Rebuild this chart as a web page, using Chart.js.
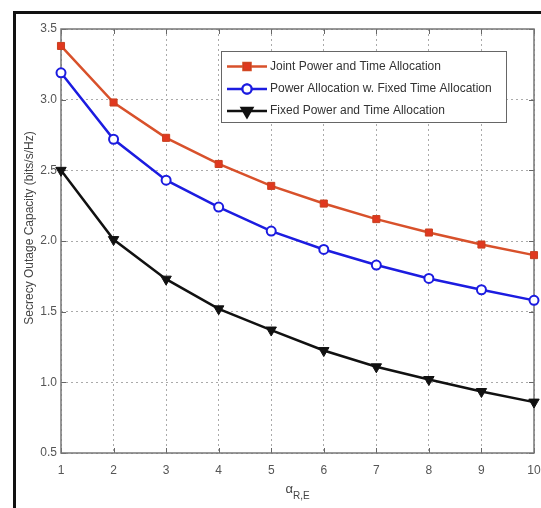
<!DOCTYPE html>
<html>
<head>
<meta charset="utf-8">
<script src="https://cdn.jsdelivr.net/npm/chart.js@4/dist/chart.umd.min.js"></script>
<style>
  html, body { margin: 0; padding: 0; background: #fff; }
  #wrap { position: relative; width: 541px; height: 508px; }
  #frame { position: absolute; left: 13px; top: 11px; right: 0; bottom: 0;
           border-left: 3px solid #111; border-top: 3px solid #111; pointer-events: none; }
  canvas { position: absolute; left: 0; top: 0; }
</style>
</head>
<body>
<div id="wrap">
  <canvas id="c" width="541" height="508"></canvas>
  <div id="frame"></div>
</div>
<script>
// ---- data ----
const alpha = [1, 2, 3, 4, 5, 6, 7, 8, 9, 10];
const seriesNames = [
  'Joint Power and Time Allocation',
  'Power Allocation w. Fixed Time Allocation',
  'Fixed Power and Time Allocation'
];
const jointPT = [3.38, 2.98, 2.73, 2.545, 2.39, 2.265, 2.155, 2.06, 1.975, 1.90];
const powerFixedT = [3.19, 2.72, 2.43, 2.24, 2.07, 1.94, 1.83, 1.735, 1.655, 1.58];
const fixedPT = [2.50, 2.01, 1.73, 1.52, 1.37, 1.225, 1.11, 1.02, 0.935, 0.86];
const yTicks = [0.5, 1.0, 1.5, 2.0, 2.5, 3.0, 3.5];
const yTitle = 'Secrecy Outage Capacity (bits/s/Hz)';
const xTitleMain = 'α';
const xTitleSub = 'R,E';

const FONT = '"Liberation Sans", Arial, sans-serif';

const decor = {
  id: 'decor',
  beforeDatasetsDraw(chart) {
    const { ctx, chartArea: a, scales } = chart;
    ctx.save();
    // inward ticks
    ctx.strokeStyle = '#666';
    ctx.lineWidth = 1;
    ctx.beginPath();
    scales.x.ticks.forEach((t, i) => {
      const px = Math.round(scales.x.getPixelForTick(i)) + 0.5;
      ctx.moveTo(px, a.bottom); ctx.lineTo(px, a.bottom - 5);
      ctx.moveTo(px, a.top); ctx.lineTo(px, a.top + 5);
    });
    scales.y.ticks.forEach((t) => {
      const py = Math.round(scales.y.getPixelForValue(t.value)) + 0.5;
      ctx.moveTo(a.left, py); ctx.lineTo(a.left + 5, py);
      ctx.moveTo(a.right, py); ctx.lineTo(a.right - 5, py);
    });
    ctx.stroke();
    // plot box
    ctx.strokeStyle = '#777';
    ctx.lineWidth = 1.5;
    ctx.strokeRect(a.left, a.top, a.right - a.left, a.bottom - a.top);
    ctx.restore();
  },
  afterDraw(chart) {
    const { ctx, chartArea: a } = chart;
    ctx.save();
    // y title
    ctx.fillStyle = '#444';
    ctx.font = '12px ' + FONT;
    ctx.textAlign = 'center';
    ctx.textBaseline = 'middle';
    ctx.translate(30, 228);
    ctx.rotate(-Math.PI / 2);
    ctx.fillText(yTitle, 0, 0);
    ctx.restore();

    ctx.save();
    // x title alpha_{R,E}
    ctx.fillStyle = '#444';
    ctx.textBaseline = 'alphabetic';
    ctx.textAlign = 'left';
    ctx.font = '13px ' + FONT;
    const cx = (a.left + a.right) / 2;
    const wMain = ctx.measureText(xTitleMain).width;
    ctx.font = '10px ' + FONT;
    const wSub = ctx.measureText(xTitleSub).width;
    const x0 = cx - (wMain + wSub) / 2;
    ctx.font = '13px ' + FONT;
    ctx.fillText(xTitleMain, x0, 493);
    ctx.font = '10px ' + FONT;
    ctx.fillText(xTitleSub, x0 + wMain, 499);
    ctx.restore();

    // legend
    ctx.save();
    const lx = 221, ly = 51, lw = 285, lh = 71;
    ctx.fillStyle = '#fff';
    ctx.fillRect(lx, ly, lw, lh);
    ctx.strokeStyle = '#666';
    ctx.lineWidth = 1;
    ctx.strokeRect(lx + 0.5, ly + 0.5, lw, lh);
    const rows = [66.5, 89, 111];
    chart.data.datasets.forEach((ds, i) => {
      const y = rows[i];
      ctx.strokeStyle = ds.borderColor;
      ctx.lineWidth = 2.5;
      ctx.beginPath();
      ctx.moveTo(227, y); ctx.lineTo(267, y);
      ctx.stroke();
      Chart.helpers.drawPoint(ctx, {
        pointStyle: ds.pointStyle,
        rotation: ds.pointRotation || 0,
        radius: ds.pointRadius,
        borderWidth: ds.pointBorderWidth
      }, 247, y);
      ctx.fillStyle = ds.pointBackgroundColor;
      ctx.strokeStyle = ds.pointBorderColor;
      ctx.lineWidth = ds.pointBorderWidth;
      ctx.fill();
      ctx.stroke();
      ctx.fillStyle = '#333';
      ctx.font = '12px ' + FONT;
      ctx.textAlign = 'left';
      ctx.textBaseline = 'middle';
      ctx.fillText(ds.label, 270, y);
    });
    ctx.restore();
  }
};

new Chart(document.getElementById('c'), {
  type: 'line',
  data: {
    labels: alpha,
    datasets: [
      {
        label: seriesNames[0], data: jointPT,
        borderColor: '#d8512b', borderWidth: 2.5,
        pointStyle: 'rect', pointRadius: 5,
        pointBackgroundColor: '#e0381f', pointBorderColor: '#c8401f', pointBorderWidth: 1
      },
      {
        label: seriesNames[1], data: powerFixedT,
        borderColor: '#1c1ce0', borderWidth: 2.5,
        pointStyle: 'circle', pointRadius: 4.5,
        pointBackgroundColor: '#ffffff', pointBorderColor: '#1c1ce0', pointBorderWidth: 2
      },
      {
        label: seriesNames[2], data: fixedPT,
        borderColor: '#111111', borderWidth: 2.5,
        pointStyle: 'triangle', pointRotation: 180, pointRadius: 6,
        pointBackgroundColor: '#111111', pointBorderColor: '#111111', pointBorderWidth: 1
      }
    ]
  },
  options: {
    responsive: false,
    animation: false,
    devicePixelRatio: 1,
    layout: { padding: { left: 20, right: 6, top: 29, bottom: 0 } },
    plugins: { legend: { display: false }, tooltip: { enabled: false } },
    scales: {
      x: {
        type: 'category',
        offset: false,
        grid: { color: '#aaa', borderDash: [2, 3], lineWidth: 1, drawTicks: false },
        border: { display: false, dash: [2, 3] },
        ticks: { color: '#555', font: { family: FONT, size: 12 }, padding: 10, maxRotation: 0, autoSkip: false },
        afterFit(s) { s.height = 55; s.paddingLeft = 0; s.paddingRight = 0; }
      },
      y: {
        min: 0.5, max: 3.5,
        afterBuildTicks(s) { s.ticks = yTicks.map(v => ({ value: v })); },
        grid: { color: '#aaa', lineWidth: 1, drawTicks: false },
        border: { display: false, dash: [2, 3] },
        ticks: { color: '#555', font: { family: FONT, size: 12 }, padding: 4,
                 callback: (v) => Number(v).toFixed(1) },
        afterFit(s) { s.width = 41; s.paddingTop = 0; s.paddingBottom = 0; }
      }
    }
  },
  plugins: [decor]
});
</script>
</body>
</html>
